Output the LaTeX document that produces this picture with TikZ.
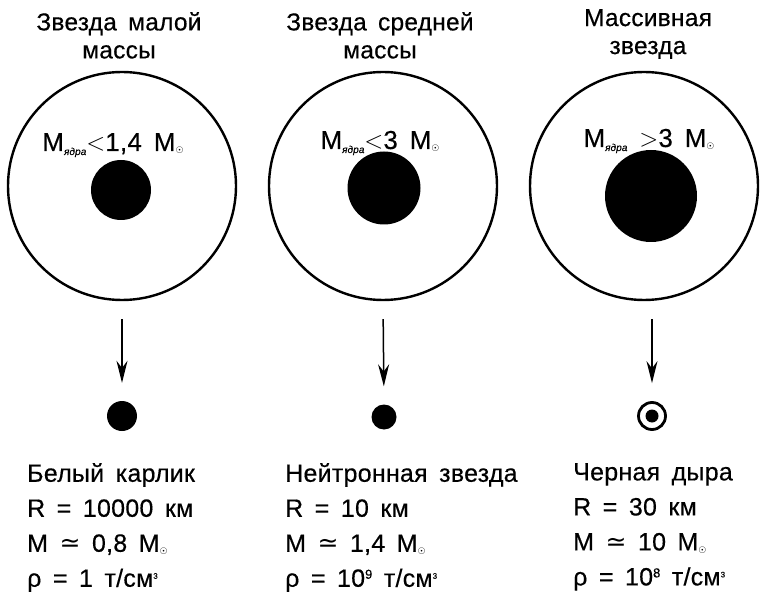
\documentclass[tikz,border=0pt]{standalone}
\usepackage{fontspec}
\setmainfont{Liberation Sans}[LetterSpace=1,WordSpace=1.6,FakeBold=0.4]
\newfontfamily\dejavu{DejaVu Sans}
\usetikzlibrary{arrows.meta}
\newcommand{\sunsub}{\raisebox{-3pt}{\dejavu\fontsize{9}{9}\selectfont ☉}}
\newcommand{\cubsup}{\raisebox{8pt}{\fontsize{8}{8}\selectfont 3}}
\newcommand{\expsup}[1]{\raisebox{8pt}{\fontsize{13}{13}\selectfont #1}}
\newcommand{\yadra}{\raisebox{-4pt}{\fontsize{10}{10}\selectfont\itshape ядра}}
\newcommand{\bigrel}[1]{{\fontsize{34}{34}\selectfont$#1$}}
\begin{document}
\begin{tikzpicture}[x=1pt,y=-1pt,
  title/.style={align=center,anchor=north,inner sep=0pt,font=\fontsize{24.5}{28}\selectfont},
  shell/.style={circle,draw,line width=2.4pt,minimum size=228pt,inner sep=0pt},
  core/.style={circle,fill=black,inner sep=0pt},
  corelabel/.style={inner sep=0pt,anchor=base,font=\fontsize{26}{26}\selectfont},
  info/.style={align=left,anchor=north west,inner sep=0pt,font=\fontsize{25}{35}\selectfont},
  arr/.style={line width=1.5pt,-{Stealth[length=22pt,width=11pt]}},
]
\useasboundingbox (0,0) rectangle (763,596);
% titles
\node[title] (t1) at (119,12) {Звезда малой\\массы};
\node[title] (t2) at (380,12) {Звезда средней\\массы};
\node[title] (t3) at (648,9) {Массивная\\звезда};
% shells
\node[shell] (s1) at (122,186) {};
\node[shell] (s2) at (383,186) {};
\node[shell] (s3) at (644,186) {};
% cores
\node[core,minimum size=60pt] (c1) at (121,190) {};
\node[core,minimum size=73pt] (c2) at (384,188) {};
\node[core,minimum size=92pt] (c3) at (651,196) {};
% core labels
\node[corelabel] (l1) at (113,151) {M\yadra\bigrel{<}1,4 M\sunsub};
\node[corelabel] (l2) at (380,149) {M\yadra\bigrel{<}3 M\sunsub};
\node[corelabel] (l3) at (649,147) {M\yadra\ \bigrel{>}3 M\sunsub};
% remnants
\node[core,minimum size=30pt] (r1) at (122,416) {};
\node[core,minimum size=25pt] (r2) at (384,417) {};
\node[circle,draw,line width=2.8pt,minimum size=27pt,inner sep=0pt] (r3) at (652,416) {};
\node[core,minimum size=13pt] (r3c) at (652,416) {};
% arrows
\draw[arr,shorten <=18pt,shorten >=18pt] (s1.south) -- (r1.north);
\draw[arr,shorten <=18pt,shorten >=18pt] (s2.south) -- (r2.north);
\draw[arr,shorten <=18pt,shorten >=18pt] (s3.south -| r3) -- (r3.north);
% info
\node[info] (i1) at (27,463) {Белый карлик\\R = 10000 км\\M {\dejavu ≃} 0,8 M\sunsub\\ρ = 1 т/см\cubsup};
\node[info] (i2) at (285,463) {Нейтронная звезда\\R = 10 км\\M {\dejavu ≃} 1,4 M\sunsub\\ρ = 10\expsup{9} т/см\cubsup};
\node[info] (i3) at (573,463) {Черная дыра\\R = 30 км\\M {\dejavu ≃} 10 M\sunsub\\ρ = 10\expsup{8} т/см\cubsup};
\end{tikzpicture}
\end{document}
